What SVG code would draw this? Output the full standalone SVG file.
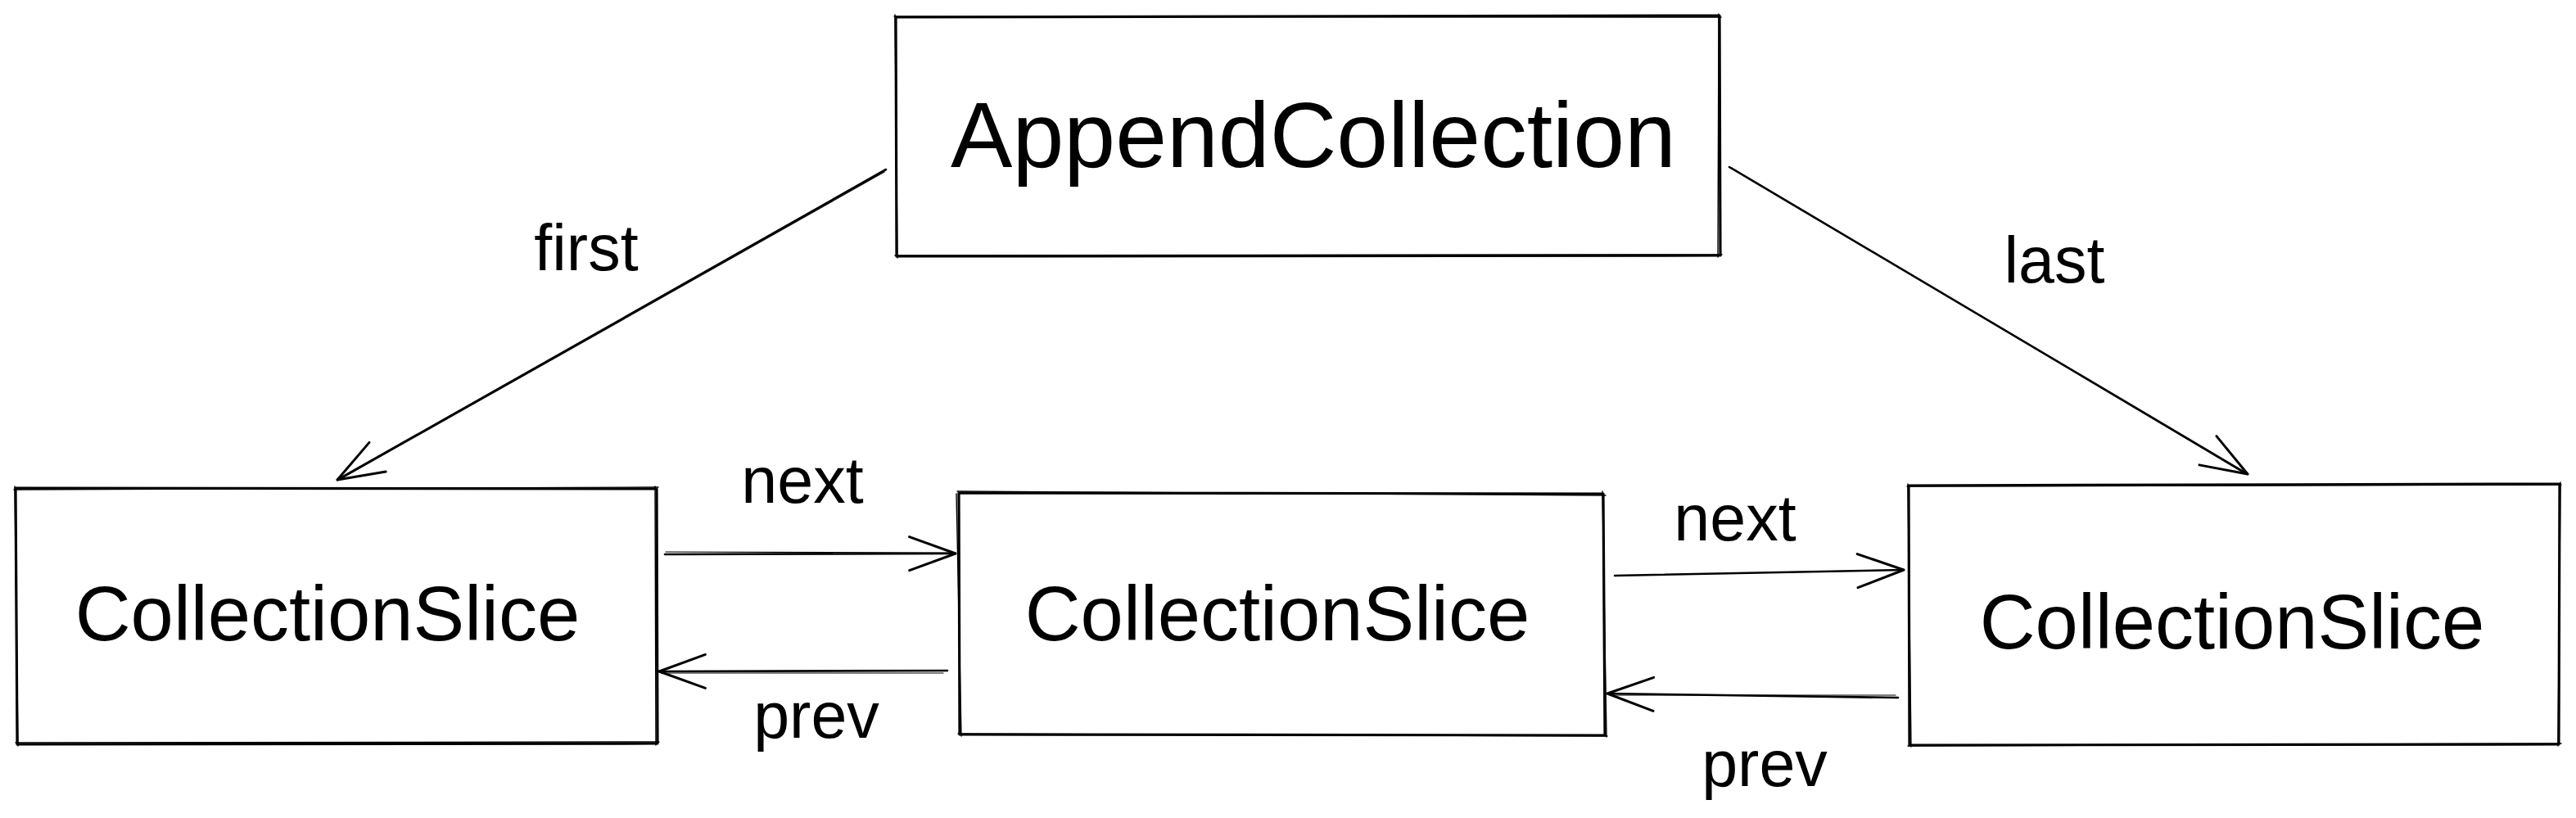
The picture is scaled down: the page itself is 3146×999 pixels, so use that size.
<svg xmlns="http://www.w3.org/2000/svg" width="3146" height="999" viewBox="0 0 3146 999">
  <style>
    .box { fill: #ffffff; stroke: #000000; stroke-width: 3.2; stroke-linejoin: round; }
    .box2 { fill: none; stroke: #000000; stroke-width: 1.4; stroke-linecap: round; }
    .lbl { font-family: "Liberation Sans", Arial, Helvetica, sans-serif; fill: #000000; text-anchor: middle; }
    .node-text { font-size: 94px; }
    .edge { fill: none; stroke: #000000; stroke-width: 2.6; stroke-linecap: round; }
    .edge2 { fill: none; stroke: #000000; stroke-width: 1.2; stroke-linecap: round; }
    .edge-label { font-size: 79px; }
  </style>
  <defs>
    <marker id="arrow" markerUnits="userSpaceOnUse" markerWidth="80" markerHeight="60" viewBox="-70 -30 80 60" refX="0" refY="0" orient="auto" overflow="visible">
      <path d="M -56.4,-20.5 L 0,0 L -56.4,20.5" fill="none" stroke="#000000" stroke-width="3" stroke-linecap="round" stroke-linejoin="round"/>
    </marker>
  </defs>
  <rect width="3146" height="999" fill="#ffffff"/>

  <g id="connectors">
    <g id="edge-first">
      <path class="edge" d="M1082,207 L412,586" marker-end="url(#arrow)"/>
      <path class="edge2" d="M1080,210 L416,585"/>
      <text class="lbl edge-label" x="716" y="330">first</text>
    </g>
    <g id="edge-last">
      <path class="edge" d="M2112,204 L2745,579" marker-end="url(#arrow)"/>
      <path class="edge2" d="M2115,205 L2741,578"/>
      <text class="lbl edge-label" x="2509" y="345">last</text>
    </g>
    <g id="edge-next-1">
      <path class="edge" d="M812,677 L1167,676" marker-end="url(#arrow)"/>
      <path class="edge2" d="M813,674 L1163,675"/>
      <text class="lbl edge-label" x="980" y="614">next</text>
    </g>
    <g id="edge-prev-1">
      <path class="edge" d="M1157,819 L805,820" marker-end="url(#arrow)"/>
      <path class="edge2" d="M1152,822 L808,822"/>
      <text class="lbl edge-label" x="997" y="901">prev</text>
    </g>
    <g id="edge-next-2">
      <path class="edge" d="M1972,703 L2325,696" marker-end="url(#arrow)"/>
      <text class="lbl edge-label" x="2119" y="660">next</text>
    </g>
    <g id="edge-prev-2">
      <path class="edge" d="M2318,852 L1963,847" marker-end="url(#arrow)"/>
      <path class="edge2" d="M2315,849 L1966,849"/>
      <text class="lbl edge-label" x="2155" y="960">prev</text>
    </g>
  </g>

  <g id="node-append-collection">
    <path class="box" d="M1094,21 L2100,19 L2101,312 L1095,313 Z"/>
    <path class="box2" d="M1092,20 L2102,21 M2099,17 L2098,314 M2103,311 L1093,312 M1096,315 L1093,18"/>
    <text class="lbl" x="1604" y="204" font-size="113">AppendCollection</text>
  </g>

  <g id="node-slice-1">
    <path class="box" d="M19,596 L802,597 L803,908 L21,909 Z"/>
    <path class="box2" d="M17,598 L804,595 M800,594 L801,910 M805,906 L19,907 M22,911 L18,594"/>
    <text class="lbl node-text" x="400" y="782">CollectionSlice</text>
  </g>

  <g id="node-slice-2">
    <path class="box" d="M1171,602 L1958,603 L1960,898 L1172,897 Z"/>
    <path class="box2" d="M1169,600 L1961,605 M1957,600 L1962,900 M1963,899 L1170,896 M1174,899 L1168,603"/>
    <text class="lbl node-text" x="1560" y="782">CollectionSlice</text>
  </g>

  <g id="node-slice-3">
    <path class="box" d="M2331,593 L3126,591 L3125,909 L2332,910 Z"/>
    <path class="box2" d="M2329,594 L3128,592 M3127,589 L3124,911 M3128,908 L2330,911 M2334,912 L2330,591"/>
    <text class="lbl node-text" x="2726" y="792">CollectionSlice</text>
  </g>
</svg>
